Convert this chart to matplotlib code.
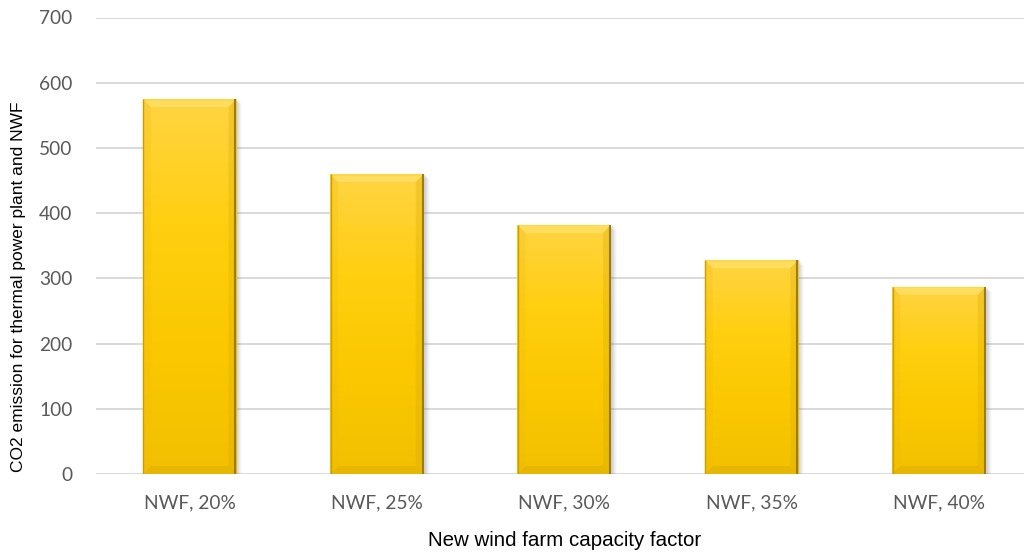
import numpy as np
import matplotlib
matplotlib.use("Agg")
import matplotlib.pyplot as plt
from matplotlib.patches import Polygon, Rectangle
from matplotlib.colors import LinearSegmentedColormap

categories = ["NWF, 20%", "NWF, 25%", "NWF, 30%", "NWF, 35%", "NWF, 40%"]
emissions = [575, 460, 382, 328, 287]
y_ticks = [0, 100, 200, 300, 400, 500, 600, 700]

W, H = 1024, 553
fig = plt.figure(figsize=(W / 100, H / 100), dpi=100)
fig.patch.set_facecolor("white")

# plot area in pixels: left 96, zero line at 474, top (700) at 17.5
left_px, bottom_px, top_px, cat_px = 96, 474, 17.5, 187.3
ax = fig.add_axes([left_px / W, (H - bottom_px) / H,
                   5 * cat_px / W, (bottom_px - top_px) / H])
ax.set_xlim(-0.5, len(categories) - 0.5)
ax.set_ylim(0, 700)
ax.set_yticks(y_ticks)
ax.set_xticks(range(len(categories)))
ax.set_xticklabels(categories)

for s in ax.spines.values():
    s.set_visible(False)
ax.yaxis.grid(True, color="#d9d9d9", linewidth=1.4)
ax.set_axisbelow(True)
ax.tick_params(axis="both", length=0, labelcolor="#595959", labelsize=13.8)
ax.tick_params(axis="y", pad=17)
ax.tick_params(axis="x", pad=14.5)
for lab in ax.get_xticklabels() + ax.get_yticklabels():
    lab.set_fontfamily("Lato")

ax.set_xlabel("New wind farm capacity factor", fontsize=14.8,
              fontfamily="Liberation Sans", color="black")
ax.set_ylabel("CO2 emission for thermal power plant and NWF", fontsize=12.5,
              fontfamily="Liberation Sans", color="black")
ax.xaxis.set_label_coords(0.5008, -0.145)
ax.xaxis.label.set_va("center")
ax.yaxis.set_label_coords(-0.083, 0.41)
ax.yaxis.label.set_va("center")

bars = ax.bar(range(len(categories)), emissions, width=0.5,
              color="none", edgecolor="none", zorder=3)

# pixel -> data unit conversion
ax_w_px = 5 * cat_px
ax_h_px = bottom_px - top_px
dx = (len(categories)) / ax_w_px
dy = 700 / ax_h_px

body_cmap = LinearSegmentedColormap.from_list(
    "gold", ["#f2c000", "#fbc800", "#ffcf10", "#ffd443"])

for b in bars:
    x0, y0 = b.get_x(), b.get_y()
    x1, y1 = x0 + b.get_width(), y0 + b.get_height()

    # soft shadow toward lower right
    for k, a in zip(range(5, 0, -1), [0.04, 0.05, 0.07, 0.09, 0.11]):
        ax.add_patch(Rectangle((x0 + 1 * dx, y0 - k * dy),
                               (x1 - x0) + k * dx, (y1 - y0),
                               facecolor="#808080", edgecolor="none",
                               alpha=a, zorder=2))

    # vertical gradient body
    grad = np.linspace(0, 1, 256).reshape(-1, 1)
    im = ax.imshow(grad, cmap=body_cmap, origin="lower", aspect="auto",
                   extent=[x0, x1, y0, y1], zorder=3, interpolation="bilinear")
    clip = Rectangle((x0, y0), x1 - x0, y1 - y0, transform=ax.transData)
    im.set_clip_path(clip)

    bx, by = 8 * dx, 8 * dy
    # top bevel
    ax.add_patch(Polygon([(x0, y1), (x1, y1), (x1 - bx, y1 - by), (x0 + bx, y1 - by)],
                         closed=True, facecolor="#ffe066", edgecolor="none",
                         alpha=0.8, zorder=4))
    ax.add_patch(Rectangle((x0, y1 - 1.5 * dy), x1 - x0, 1.5 * dy,
                           facecolor="#ffd54a", edgecolor="none", zorder=4))
    # bottom bevel
    ax.add_patch(Polygon([(x0, y0), (x1, y0), (x1 - bx, y0 + by), (x0 + bx, y0 + by)],
                         closed=True, facecolor="#e0b000", edgecolor="none",
                         alpha=0.6, zorder=4))
    # left bevel
    ax.add_patch(Polygon([(x0, y0), (x0, y1), (x0 + bx, y1 - by), (x0 + bx, y0 + by)],
                         closed=True, facecolor="#f0bb10", edgecolor="none",
                         alpha=0.25, zorder=4))
    # right bevel
    ax.add_patch(Polygon([(x1, y0), (x1, y1), (x1 - bx, y1 - by), (x1 - bx, y0 + by)],
                         closed=True, facecolor="#d8aa00", edgecolor="none",
                         alpha=0.3, zorder=4))
    # edge lines
    ax.plot([x1 - 1.0 * dx, x1 - 1.0 * dx], [y0, y1], color="#9a7d1a",
            linewidth=1.5, zorder=5, solid_capstyle="butt")
    ax.plot([x0 + 0.6 * dx, x0 + 0.6 * dx], [y0, y1], color="#c9a000",
            linewidth=1.0, zorder=5, solid_capstyle="butt")

fig.savefig("out.png", dpi=100, facecolor="white")
